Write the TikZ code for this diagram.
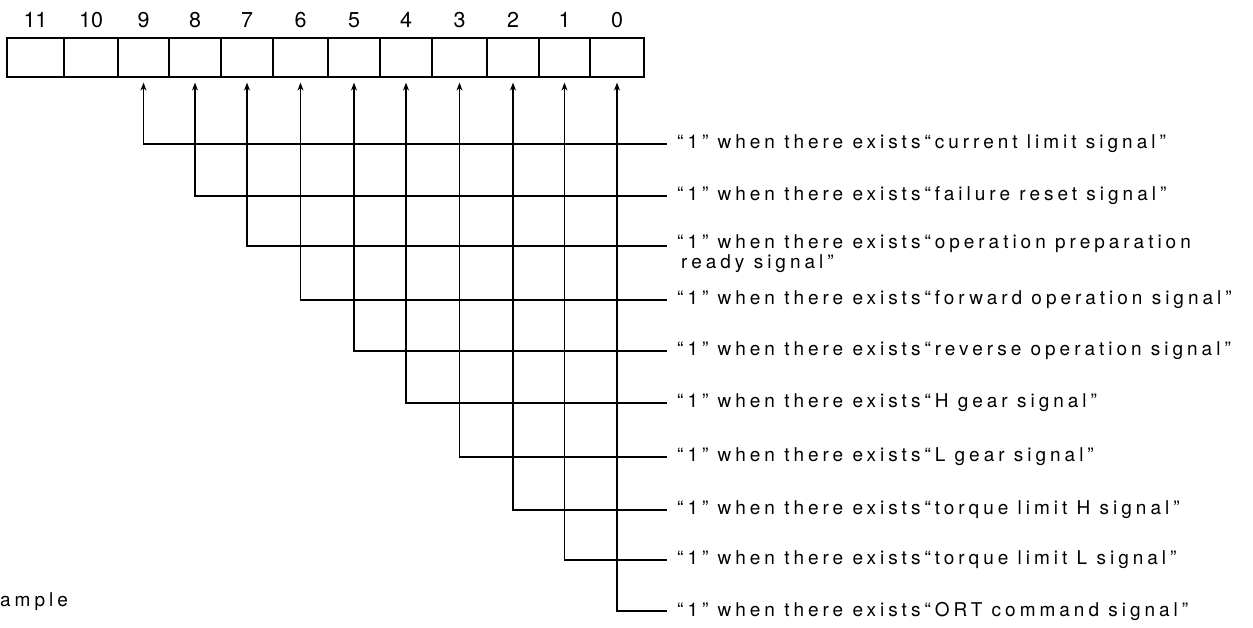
\documentclass[tikz,border=0pt]{standalone}
\usepackage{fontspec}
\setmainfont{TeX Gyre Heros}
\newfontfamily\sigfont[LetterSpace=21]{TeX Gyre Heros}
\usetikzlibrary{arrows.meta}
\begin{document}
\begin{tikzpicture}[x=1pt,y=1pt,
  cell/.style={draw, line width=1.2pt, minimum height=39pt, inner sep=0pt},
  bitnum/.style={font=\fontsize{21.5}{24}\selectfont, inner sep=0pt},
  sig/.style={anchor=west, font=\sigfont\fontsize{19}{20}\selectfont, inner sep=0pt, align=left},
  conn/.style={line width=1.2pt, -{Stealth[length=8pt,width=6pt]}, shorten >=5pt}]
\useasboundingbox (0,0) rectangle (1253,-628);
\foreach \b/\l/\r in {11/7/64, 10/64/118, 9/118/169, 8/169/221, 7/221/273, 6/273/328, 5/328/380, 4/380/432, 3/432/487, 2/487/539, 1/539/590, 0/590/644} {
  \pgfmathsetmacro\w{\r-\l}
  \node[cell, minimum width=\w pt] (c\b) at ({(\l+\r)/2},-57.5) {};
  \node[bitnum] (n\b) at ({(\l+\r)/2},-20) {\b};
}
\coordinate (h9) at (667,-144);
\coordinate (h8) at (667,-196);
\coordinate (h7) at (667,-246);
\coordinate (h6) at (667,-300);
\coordinate (h5) at (667,-351);
\coordinate (h4) at (667,-403);
\coordinate (h3) at (667,-457);
\coordinate (h2) at (667,-510);
\coordinate (h1) at (667,-560);
\coordinate (h0) at (667,-611);
\node[sig] (l9) at (677,-144) {“1” when there exists“current limit signal”};
\node[sig] (l8) at (677,-196) {“1” when there exists“failure reset signal”};
\node[sig] (l7) at (677,-254) {“1” when there exists“operation preparation\\\hspace{4pt}ready signal”};
\node[sig] (l6) at (677,-300) {“1” when there exists“forward operation signal”};
\node[sig] (l5) at (677,-351) {“1” when there exists“reverse operation signal”};
\node[sig] (l4) at (677,-403) {“1” when there exists“H gear signal”};
\node[sig] (l3) at (677,-457) {“1” when there exists“L gear signal”};
\node[sig] (l2) at (677,-510) {“1” when there exists“torque limit H signal”};
\node[sig] (l1) at (677,-560) {“1” when there exists“torque limit L signal”};
\node[sig] (l0) at (677,-611) {“1” when there exists“ORT command signal”};
\node[sig] (ex) at (0,-602) {ample};
\foreach \i in {0,...,9} {
  \draw[conn] (h\i) -| (c\i.south);
}
\end{tikzpicture}
\end{document}
